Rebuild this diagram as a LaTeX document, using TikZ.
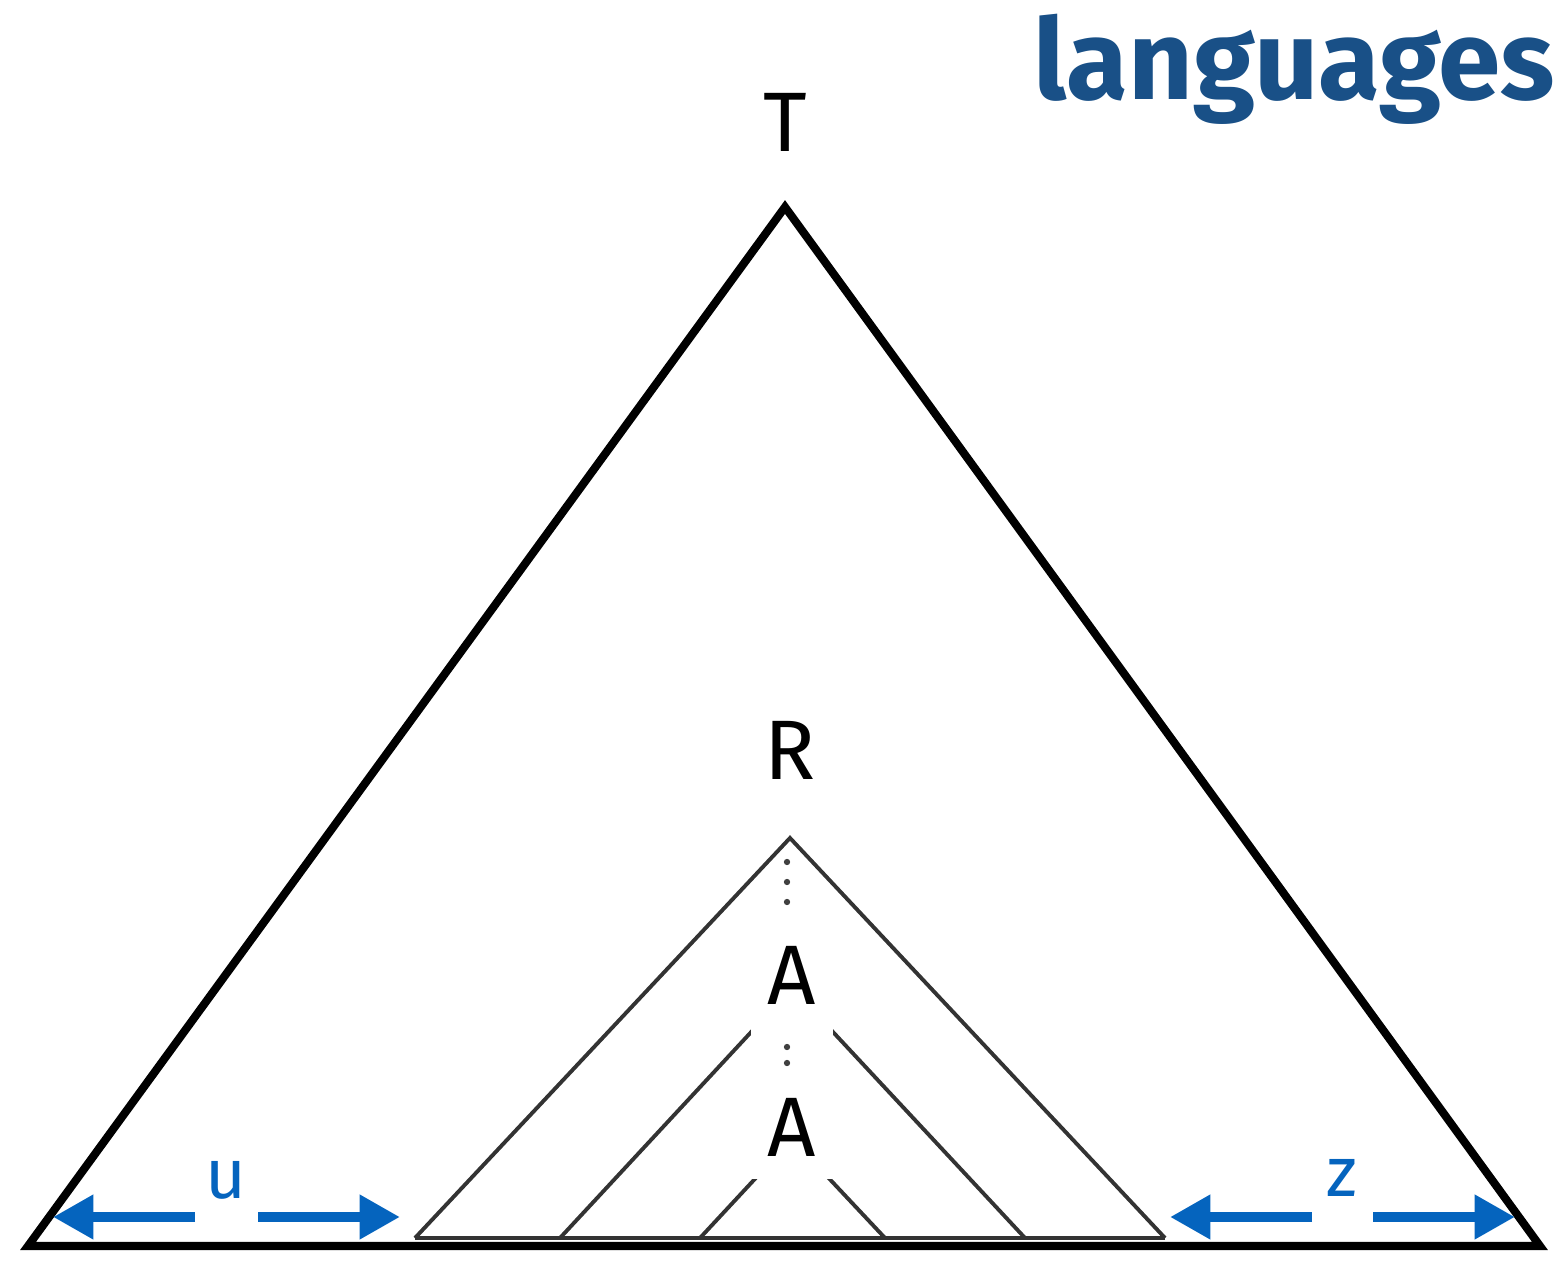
\documentclass[tikz,border=0pt]{standalone}
\usepackage{fontspec}
\setmainfont{Fira Sans}
\usetikzlibrary{arrows.meta}
\definecolor{langblue}{RGB}{25,80,135}
\definecolor{arrblue}{RGB}{5,100,190}

\begin{document}
\begin{tikzpicture}[x=0.01cm, y=-0.01cm,
  bigtri/.style={line width=2.3pt},
  subtri/.style={line width=1.1pt, black!80},
  letter/.style={font=\fontsize{24}{28}\selectfont, inner sep=0pt},
  cover/.style={letter, fill=white, minimum width=0.81cm},
  dimlabel/.style={font=\fontsize{20}{24}\selectfont, text=arrblue, inner sep=0pt},
  lenarrow/.style={draw=arrblue, line width=2.85pt, -{Triangle[length=11.5pt,width=12pt]}}]

\useasboundingbox (0,0) rectangle (1557,1270);

\node[anchor=base west, font=\fontsize{32}{38}\selectfont\bfseries, text=langblue, inner sep=0pt]
  (title) at (1033,100) {languages};

%%%%%%%%%%%%%%%%%%%%%%%%%%%%%%%
\draw[bigtri] (785,207) -- (28,1246) -- (1540,1246) -- cycle;
\node[letter] (T) at (785,122) {T};

%%%%%%%%%%%%%%%%%%%%%%%%%%%%%%%
\draw[subtri] (415,1238) -- (1165,1238);
\draw[subtri] (415,1238) -- (790,838) -- (1165,1238);
\draw[subtri] (560,1238) -- (792,988) -- (1025,1238);
\draw[subtri] (700,1238) -- (792,1139) -- (885,1238);

\node[letter] (R) at (790,750) {R};
\node[cover, minimum height=1.3cm] (A1) at (792,975) {A};
\node[cover, minimum height=1.03cm] (A2) at (792,1127) {A};

% vertical dots
\foreach \y in {862,882,902,1047,1063}
  \fill[black!75] (787,\y) circle (0.9pt);

%%%%%%%%%%%%%%%%%%%%%%%%%%%%%%%
\node[dimlabel] (u) at (226,1180) {u};
\coordinate (uLs) at (195,1217);
\coordinate (uL) at (53,1217);
\coordinate (uRs) at (258,1217);
\coordinate (uR) at (400,1217);
\draw[lenarrow] (uLs) -- (uL);
\draw[lenarrow] (uRs) -- (uR);

\node[dimlabel] (z) at (1342,1178) {z};
\coordinate (zLs) at (1312,1217);
\coordinate (zL) at (1170,1217);
\coordinate (zRs) at (1373,1217);
\coordinate (zR) at (1515,1217);
\draw[lenarrow] (zLs) -- (zL);
\draw[lenarrow] (zRs) -- (zR);

\end{tikzpicture}
\end{document}
